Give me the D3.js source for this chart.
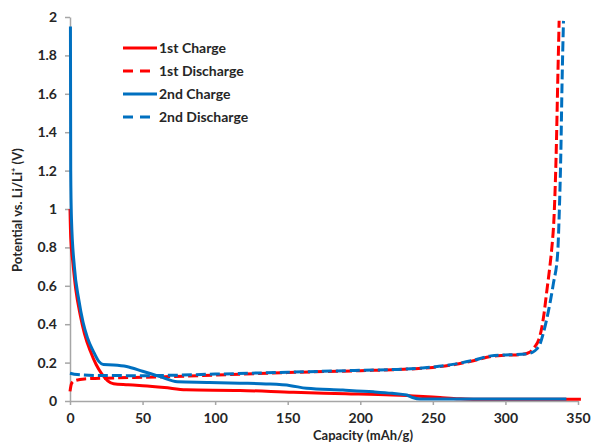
<!DOCTYPE html>
<html>
<head>
<meta charset="utf-8">
<script src="https://cdn.jsdelivr.net/npm/d3@7"></script>
<style>
  body { margin: 0; background: #fff; }
  text { font-family: Lato, "Open Sans", sans-serif; font-weight: bold; fill: #262626; }
</style>
</head>
<body>
<div id="chart"></div>
<script>
// values: [capacity mAh/g, potential V]
var charge1 = [[0,1.0],[0.5,0.85],[2,0.72],[4,0.58],[7,0.45],[10,0.35],[14,0.26],[18,0.19],[22,0.14],[26,0.105],[30,0.09],[40,0.085],[50,0.08],[65,0.07],[80,0.058],[117,0.055],[154,0.045],[190,0.038],[222,0.031],[240,0.025],[255,0.018],[268,0.012],[280,0.009],[352,0.009]];
var discharge1 = [[0,0.05],[1,0.09],[3,0.105],[10,0.115],[30,0.12],[60,0.125],[100,0.135],[150,0.148],[200,0.158],[230,0.165],[250,0.175],[265,0.19],[278,0.21],[290,0.232],[300,0.238],[312,0.243],[317,0.255],[320,0.28],[323,0.32],[325,0.38],[326.5,0.45],[328.3,0.56],[330.6,0.70],[332,0.8],[333.5,0.96],[335,1.3],[336,1.65],[337,1.98]];
var charge2 = [[0.3,1.95],[0.5,1.2],[1,0.95],[3,0.7],[6,0.53],[9,0.41],[12,0.33],[16,0.26],[20,0.205],[23,0.19],[30,0.188],[39,0.18],[50,0.155],[62,0.127],[74,0.10],[96,0.097],[117,0.093],[135,0.089],[152,0.08],[163,0.066],[188,0.057],[209,0.048],[222,0.04],[232,0.031],[236,0.018],[241,0.01],[342,0.01]];
var discharge2 = [[0,0.145],[5,0.138],[20,0.133],[50,0.132],[100,0.14],[150,0.15],[200,0.16],[230,0.166],[250,0.177],[265,0.192],[278,0.212],[290,0.235],[300,0.24],[314,0.245],[319,0.255],[321.5,0.27],[324,0.3],[326,0.35],[329.4,0.46],[333,0.61],[336,0.77],[337,0.96],[338.2,1.3],[339,1.65],[340,1.98]];

var seriesNames = ["1st Charge", "1st Discharge", "2nd Charge", "2nd Discharge"];
var xTicks = [0, 50, 100, 150, 200, 250, 300, 350];
var yTicks = [0, 0.2, 0.4, 0.6, 0.8, 1, 1.2, 1.4, 1.6, 1.8, 2];

var W = 591, H = 444;
var svg = d3.select("#chart").append("svg")
    .attr("width", W)
    .attr("height", H);

var x = d3.scaleLinear().domain([0, 350]).range([70, 578]);
var y = d3.scaleLinear().domain([0, 2]).range([401, 17]);

// axes
var gx = svg.append("g")
    .attr("transform", "translate(0," + y(0) + ")")
    .call(d3.axisBottom(x).tickValues(xTicks).tickSize(4).tickSizeOuter(0).tickPadding(8).tickFormat(d3.format("d")));
var gy = svg.append("g")
    .attr("transform", "translate(" + x(0) + ",0)")
    .call(d3.axisLeft(y).tickValues(yTicks).tickSize(5).tickSizeOuter(0).tickPadding(8).tickFormat(function(d) { return d3.format("")(+d.toFixed(1)); }));

[gx, gy].forEach(function(g) {
  g.select(".domain").attr("stroke", "#a6a6a6").attr("stroke-width", 1.5);
  g.selectAll(".tick line").attr("stroke", "#a6a6a6").attr("stroke-width", 1.5);
  g.selectAll(".tick text").style("font-size", "14px").style("font-family", "Lato, sans-serif").attr("fill", "#262626");
});

// axis titles
svg.append("text")
  .attr("x", 363)
  .attr("y", 440)
  .attr("text-anchor", "middle")
  .style("font-size", "13px")
  .text("Capacity (mAh/g)");

svg.append("text")
  .attr("transform", "translate(22," + (y(1) + 1) + ") rotate(-90)")
  .attr("text-anchor", "middle")
  .style("font-size", "13px")
  .text("Potential vs. Li/Li\u207A (V)");

// lines
var line = d3.line()
  .curve(d3.curveMonotoneX)
  .x(function(d) { return x(d[0]); })
  .y(function(d) { return y(d[1]); });

var series = [
  {name: seriesNames[0], data: charge1, color: "#ff0000", dash: null},
  {name: seriesNames[1], data: discharge1, color: "#ff0000", dash: "10,4"},
  {name: seriesNames[2], data: charge2, color: "#0070c0", dash: null},
  {name: seriesNames[3], data: discharge2, color: "#0070c0", dash: "10,4"}
];

// draw red first so the blue lies on top
[series[0], series[1], series[3], series[2]].forEach(function(s) {
  svg.append("path")
    .datum(s.data)
    .attr("fill", "none")
    .attr("stroke", s.color)
    .attr("stroke-width", 3)
    .attr("stroke-dasharray", s.dash)
    .attr("d", line);
});

// legend
var legend = svg.append("g").attr("transform", "translate(123,48)");
series.forEach(function(s, i) {
  var row = legend.append("g").attr("transform", "translate(0," + (i * 23) + ")");
  row.append("line")
    .attr("x1", 0).attr("x2", 34)
    .attr("y1", 0).attr("y2", 0)
    .attr("stroke", s.color)
    .attr("stroke-width", 3)
    .attr("stroke-dasharray", s.dash ? "10,7" : null);
  row.append("text")
    .attr("x", 36)
    .attr("y", 5)
    .style("font-size", "14px")
    .text(s.name);
});
</script>
</body>
</html>
